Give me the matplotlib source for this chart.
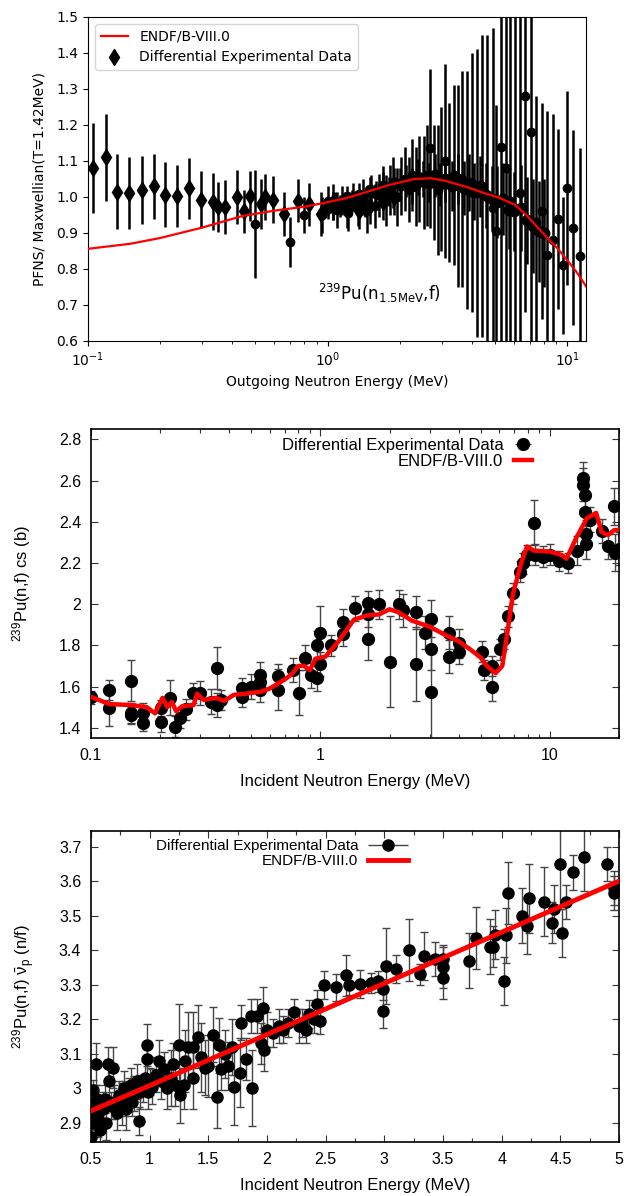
import matplotlib
matplotlib.use("Agg")
import matplotlib.pyplot as plt
from matplotlib.container import ErrorbarContainer
from matplotlib.legend_handler import HandlerErrorbar
from matplotlib.ticker import FuncFormatter, FormatStrFormatter, MultipleLocator, FixedLocator, NullFormatter, LogLocator

OUT = "out.png"

# ---- top: PFNS / Maxwellian ratio ----
PFNS_ENDF_E = [0.1, 0.15, 0.2, 0.3, 0.44, 0.6, 0.8, 0.96, 1.2, 1.41, 1.8, 2.3, 2.7, 3.1, 3.8, 4.5, 5.2, 6.07, 6.8, 7.5, 8.3, 9.1, 10.0, 11.0, 12.0]
PFNS_ENDF_R = [0.856, 0.87, 0.886, 0.915, 0.947, 0.962, 0.973, 0.983, 0.997, 1.011, 1.033, 1.05, 1.052, 1.045, 1.028, 1.011, 0.998, 0.978, 0.948, 0.917, 0.885, 0.858, 0.825, 0.79, 0.752]

PFNS_A_E = [0.105, 0.119, 0.132, 0.149, 0.168, 0.188, 0.209, 0.235, 0.263, 0.296, 0.332, 0.35, 0.372, 0.42, 0.447, 0.473, 0.526, 0.547, 0.59, 0.66, 0.75, 0.84, 0.94, 1.05, 1.2, 1.35, 1.5, 1.7, 1.9]
PFNS_A_R = [1.08, 1.11, 1.015, 1.01, 1.02, 1.03, 1.006, 1.003, 1.024, 0.993, 0.987, 0.973, 0.973, 1.0, 0.96, 1.003, 0.98, 1.0, 0.993, 0.953, 0.99, 0.98, 0.953, 0.985, 0.965, 0.96, 0.975, 0.985, 1.0]
PFNS_A_ERR = [0.125, 0.12, 0.105, 0.1, 0.095, 0.09, 0.09, 0.085, 0.085, 0.08, 0.08, 0.07, 0.075, 0.075, 0.06, 0.07, 0.07, 0.065, 0.065, 0.06, 0.06, 0.06, 0.06, 0.05, 0.05, 0.05, 0.05, 0.05, 0.05]

PFNS_B_E = [0.5, 0.7, 0.8, 0.95, 1.0, 1.05, 1.1, 1.15, 1.22, 1.28, 1.34, 1.4, 1.46, 1.52, 1.58, 1.64, 1.7, 1.76, 1.82, 1.88,
            1.95, 2.02, 2.1, 2.18, 2.26, 2.34, 2.42, 2.52, 2.6, 2.68, 2.78, 2.88, 2.98, 3.1, 3.22, 3.36, 3.5, 3.65, 3.82, 4.0,
            4.2, 4.42, 4.65, 4.9, 5.05, 5.3, 5.55, 5.8, 6.05, 6.35, 6.7, 7.1, 7.45, 7.85, 8.25, 8.7, 9.2, 9.65, 10.0, 10.6, 11.3]
PFNS_B_R = [0.925, 0.875, 0.95, 0.95, 0.99, 0.975, 0.965, 0.99, 0.955, 1.0, 0.97, 1.0, 0.96, 1.01, 0.975, 1.005, 1.025, 0.99, 1.02, 1.04,
            1.0, 1.03, 1.05, 1.02, 1.06, 1.03, 1.05, 1.04, 1.06, 1.135, 1.04, 1.02, 1.05, 1.1, 1.04, 1.06, 1.03, 1.05, 1.02, 1.04,
            1.01, 1.03, 1.0, 0.97, 0.905, 1.14, 1.08, 0.99, 0.97, 1.01, 1.28, 1.18, 0.93, 0.96, 0.84, 0.88, 0.94, 0.81, 1.025, 0.915, 0.835]
PFNS_B_ERR = [0.15, 0.07, 0.05, 0.05, 0.04, 0.04, 0.05, 0.04, 0.05, 0.04, 0.05, 0.05, 0.06, 0.05, 0.06, 0.06, 0.06, 0.07, 0.07, 0.07,
              0.08, 0.08, 0.09, 0.09, 0.1, 0.11, 0.12, 0.13, 0.14, 0.22, 0.16, 0.18, 0.2, 0.27, 0.22, 0.25, 0.28, 0.3, 0.33, 0.36,
              0.4, 0.42, 0.45, 0.5, 0.35, 0.55, 0.55, 0.55, 0.55, 0.55, 0.6, 0.6, 0.35, 0.3, 0.4, 0.35, 0.25, 0.19, 0.27, 0.27, 0.3]

# dense set with small uncertainties around the peak
PFNS_C_E = [1.0, 1.07, 1.13, 1.2, 1.27, 1.35, 1.43, 1.5, 1.6, 1.7, 1.8, 1.9, 2.0, 2.12, 2.25, 2.38, 2.5, 2.65, 2.8, 2.95,
            3.1, 3.3, 3.5, 3.7, 3.9, 4.1, 4.35, 4.6, 4.85, 5.1, 5.4, 5.7, 6.0, 6.4, 6.8, 7.2, 7.6, 8.0]
PFNS_C_R = [0.97, 0.985, 0.975, 1.0, 0.99, 1.005, 0.98, 1.02, 1.01, 1.03, 1.015, 1.04, 1.035, 1.045, 1.03, 1.055, 1.05, 1.04, 1.06, 1.035,
            1.05, 1.03, 1.05, 1.025, 1.04, 1.015, 1.03, 1.005, 0.995, 0.985, 0.995, 0.965, 0.96, 0.97, 0.935, 0.92, 0.905, 0.90]
PFNS_C_ERR = [0.03, 0.03, 0.03, 0.03, 0.03, 0.035, 0.035, 0.035, 0.035, 0.04, 0.04, 0.04, 0.045, 0.045, 0.05, 0.05, 0.05, 0.055, 0.06, 0.06,
              0.065, 0.07, 0.07, 0.075, 0.08, 0.08, 0.085, 0.09, 0.09, 0.1, 0.1, 0.11, 0.11, 0.12, 0.12, 0.13, 0.14, 0.15]

# ---- middle: 239Pu(n,f) cross section ----
CS_ENDF_E = [0.1, 0.12, 0.15, 0.175, 0.19, 0.205, 0.215, 0.225, 0.235, 0.25, 0.28, 0.29, 0.31, 0.35, 0.38, 0.42, 0.47, 0.55,
             0.6, 0.7, 0.75, 0.8, 0.85, 0.9, 0.95, 1.05, 1.2, 1.4, 1.6, 1.8, 2.0, 2.2, 2.5, 3.0, 3.5, 4.0, 4.5, 5.0, 5.3, 5.8,
             6.2, 6.5, 6.9, 7.5, 7.95, 8.5, 10.0, 11.3, 11.8, 13.0, 14.5, 15.9, 16.8, 17.9, 19.1, 20.0]
CS_ENDF_V = [1.55, 1.515, 1.51, 1.5, 1.47, 1.545, 1.5, 1.525, 1.48, 1.505, 1.51, 1.565, 1.535, 1.545, 1.53, 1.56, 1.565, 1.575,
             1.59, 1.635, 1.66, 1.70, 1.70, 1.68, 1.735, 1.745, 1.82, 1.925, 1.945, 1.95, 1.975, 1.96, 1.92, 1.89, 1.85, 1.82, 1.78, 1.74, 1.70, 1.665,
             1.70, 1.85, 2.05, 2.2, 2.28, 2.26, 2.255, 2.238, 2.22, 2.32, 2.417, 2.443, 2.35, 2.335, 2.36, 2.36]

CS_EXP_E = [0.1, 0.12, 0.12, 0.149, 0.149, 0.149, 0.169, 0.169, 0.201, 0.201, 0.222, 0.232, 0.245, 0.26, 0.279, 0.30, 0.335, 0.353,
            0.353, 0.37, 0.455, 0.455, 0.50, 0.546, 0.546, 0.546, 0.656, 0.656, 0.757, 0.804, 0.855, 0.909, 0.966, 0.966, 1.0, 1.0,
            1.11, 1.26, 1.26, 1.42, 1.61, 1.61, 1.61, 1.8, 2.01, 2.2, 2.3, 2.62, 2.62, 2.85, 3.03, 3.03, 3.03, 3.63, 3.63, 4.02, 4.02,
            5.04, 5.15, 5.58, 5.6, 6.05, 6.3, 6.56, 6.92, 7.4, 7.65, 7.91, 8.54, 8.6, 9.35, 10.0, 10.9, 12.0, 13.1, 13.97, 14.0, 14.2,
            14.2, 14.3, 14.4, 14.9, 16.8, 17.9, 19.1, 19.2, 20.0]
CS_EXP_V = [1.547, 1.584, 1.497, 1.628, 1.472, 1.46, 1.472, 1.424, 1.497, 1.43, 1.545, 1.406, 1.447, 1.49, 1.568, 1.568, 1.527, 1.69,
            1.51, 1.535, 1.593, 1.55, 1.60, 1.657, 1.585, 1.62, 1.65, 1.585, 1.68, 1.57, 1.74, 1.655, 1.80, 1.64, 1.86, 1.71,
            1.80, 1.915, 1.855, 1.98, 2.005, 1.83, 1.95, 2.0, 1.72, 2.0, 1.97, 1.71, 1.96, 1.86, 1.93, 1.78, 1.575, 1.86, 1.745, 1.81, 1.77,
            1.77, 1.68, 1.60, 1.70, 1.78, 1.83, 1.94, 2.052, 2.157, 2.198, 2.238, 2.396, 2.24, 2.23, 2.24, 2.21, 2.20, 2.26, 2.61, 2.58, 2.53,
            2.448, 2.34, 2.29, 2.41, 2.355, 2.28, 2.475, 2.25, 2.27]
CS_EXP_ERR = [0.03, 0.05, 0.09, 0.1, 0.05, 0.04, 0.05, 0.04, 0.04, 0.05, 0.085, 0.05, 0.05, 0.05, 0.05, 0.06, 0.06, 0.1,
              0.06, 0.05, 0.05, 0.05, 0.06, 0.06, 0.06, 0.06, 0.06, 0.1, 0.06, 0.11, 0.06, 0.06, 0.07, 0.06, 0.13, 0.06,
              0.05, 0.06, 0.06, 0.06, 0.06, 0.1, 0.06, 0.07, 0.22, 0.07, 0.08, 0.18, 0.08, 0.08, 0.09, 0.1, 0.3, 0.08, 0.08, 0.07, 0.06,
              0.05, 0.05, 0.07, 0.05, 0.05, 0.05, 0.05, 0.05, 0.05, 0.05, 0.05, 0.11, 0.05, 0.05, 0.05, 0.05, 0.05, 0.07, 0.08, 0.08, 0.07,
              0.07, 0.07, 0.07, 0.06, 0.06, 0.06, 0.09, 0.09, 0.08]

# ---- bottom: prompt nubar ----
NU_ENDF_E = [0.5, 1.0, 1.5, 2.0, 2.5, 3.0, 3.5, 4.0, 4.5, 5.0]
NU_ENDF_V = [2.935, 3.008, 3.082, 3.156, 3.23, 3.304, 3.378, 3.452, 3.526, 3.60]

NU_EXP_E = [0.5, 0.5, 0.51, 0.52, 0.53, 0.54, 0.55, 0.56, 0.57, 0.58, 0.6, 0.62, 0.63, 0.645, 0.65, 0.67, 0.69, 0.7, 0.72, 0.74,
            0.76, 0.78, 0.79, 0.8, 0.82, 0.84, 0.85, 0.87, 0.89, 0.91, 0.92, 0.94, 0.96, 0.975, 0.975, 0.99, 1.0, 1.02, 1.05, 1.08,
            1.1, 1.12, 1.15, 1.18, 1.2, 1.22, 1.25, 1.26, 1.29, 1.3, 1.33, 1.37, 1.37, 1.41, 1.44, 1.47, 1.495, 1.54, 1.57, 1.595,
            1.605, 1.64, 1.667, 1.7, 1.72, 1.77, 1.78, 1.82, 1.86, 1.87, 1.915, 1.95, 1.967, 1.975, 2.0, 2.05, 2.1, 2.14, 2.18, 2.227,
            2.27, 2.295, 2.33, 2.36, 2.4, 2.43, 2.45, 2.486, 2.59, 2.674, 2.7, 2.79, 2.89, 2.95, 2.99, 2.99, 3.015, 3.1, 3.21, 3.3,
            3.34, 3.43, 3.5, 3.5, 3.5, 3.72, 3.78, 3.9, 3.93, 3.94, 4.02, 4.04, 4.05, 4.17, 4.22, 4.23, 4.36, 4.43, 4.45, 4.5,
            4.51, 4.55, 4.61, 4.7, 4.9, 4.955, 4.955]
NU_EXP_V = [2.86, 2.945, 2.90, 2.995, 2.93, 3.07, 2.97, 2.91, 2.95, 2.88, 2.94, 2.97, 2.90, 3.07, 3.02, 2.95, 3.06, 2.96, 2.93, 2.98,
            2.955, 3.0, 2.97, 2.94, 2.99, 3.01, 2.96, 2.985, 3.02, 2.905, 2.99, 3.0, 3.03, 3.125, 3.085, 2.99, 3.02, 3.005, 3.04, 3.08,
            3.02, 3.055, 3.0, 3.03, 3.07, 3.01, 3.125, 2.98, 3.01, 3.08, 3.12, 3.03, 3.12, 3.15, 3.09, 3.06, 3.065, 3.155, 2.975, 3.125,
            3.055, 3.10, 3.065, 3.12, 3.005, 3.045, 3.19, 3.085, 3.21, 3.0, 3.21, 3.13, 3.234, 3.11, 3.17, 3.16, 3.18, 3.17, 3.19, 3.22,
            3.18, 3.19, 3.17, 3.215, 3.20, 3.245, 3.196, 3.30, 3.292, 3.327, 3.30, 3.302, 3.305, 3.31, 3.287, 3.225, 3.353, 3.345, 3.40, 3.33,
            3.384, 3.375, 3.375, 3.35, 3.32, 3.37, 3.435, 3.41, 3.41, 3.445, 3.31, 3.443, 3.566, 3.50, 3.47, 3.55, 3.54, 3.48, 3.52, 3.648,
            3.45, 3.54, 3.625, 3.67, 3.65, 3.58, 3.565]
NU_EXP_ERR = [0.02, 0.03, 0.03, 0.03, 0.04, 0.06, 0.04, 0.05, 0.03, 0.04, 0.05, 0.04, 0.05, 0.05, 0.05, 0.04, 0.06, 0.05, 0.05, 0.04,
              0.06, 0.05, 0.05, 0.06, 0.04, 0.05, 0.04, 0.05, 0.05, 0.04, 0.05, 0.04, 0.05, 0.06, 0.05, 0.05, 0.04, 0.05, 0.05, 0.06,
              0.05, 0.05, 0.06, 0.08, 0.06, 0.06, 0.12, 0.08, 0.07, 0.09, 0.1, 0.09, 0.1, 0.09, 0.1, 0.08, 0.09, 0.08, 0.09, 0.08,
              0.06, 0.07, 0.07, 0.08, 0.11, 0.1, 0.05, 0.06, 0.05, 0.11, 0.05, 0.06, 0.06, 0.06, 0.05, 0.04, 0.05, 0.04, 0.04, 0.04,
              0.05, 0.04, 0.04, 0.04, 0.04, 0.04, 0.04, 0.04, 0.04, 0.06, 0.03, 0.04, 0.03, 0.03, 0.03, 0.05, 0.11, 0.04, 0.09, 0.03,
              0.07, 0.05, 0.04, 0.06, 0.06, 0.08, 0.09, 0.08, 0.06, 0.07, 0.07, 0.08, 0.09, 0.08, 0.08, 0.1, 0.1, 0.06, 0.07, 0.13,
              0.07, 0.05, 0.05, 0.1, 0.05, 0.05, 0.05]

GNU_FONT = "Liberation Sans"


def gnuplot_style(ax):
    for s in ax.spines.values():
        s.set_linewidth(1.2)
    ax.tick_params(which="both", direction="in", top=True, right=True, width=0.8,
                   color="#333333", labelsize=11.5, labelfontfamily=GNU_FONT)
    ax.tick_params(which="major", length=5, pad=7)
    ax.tick_params(which="minor", length=3)
    ax.xaxis.set_major_formatter(FuncFormatter(lambda v, p: "%g" % v))
    ax.yaxis.set_major_formatter(FuncFormatter(lambda v, p: "%g" % v))


def gnuplot_legend(ax, exp_h, endf_h, anchor_x, size, hlen, xerr_size):
    ax.legend([exp_h, endf_h], ["Differential Experimental Data", "ENDF/B-VIII.0"],
              loc="upper right", bbox_to_anchor=(anchor_x, 1.0), frameon=False,
              markerfirst=False, prop={"family": GNU_FONT, "size": size},
              labelspacing=0.05, borderaxespad=0.15, handletextpad=0.65, handlelength=hlen,
              handler_map={ErrorbarContainer: HandlerErrorbar(xerr_size=xerr_size)})


def main():
    fig = plt.figure(figsize=(6.35, 11.96), dpi=100)

    # top panel (matplotlib look)
    ax1 = fig.add_axes([0.1386, 0.7149, 0.7843, 0.2709])
    ax1.errorbar(PFNS_B_E, PFNS_B_R, yerr=PFNS_B_ERR, fmt="o", color="black", ms=6,
                 elinewidth=1.8, zorder=2)
    ax1.errorbar(PFNS_C_E, PFNS_C_R, yerr=PFNS_C_ERR, fmt="o", color="black", ms=7.5,
                 elinewidth=1.8, zorder=2)
    h_a = ax1.errorbar(PFNS_A_E, PFNS_A_R, yerr=PFNS_A_ERR, fmt="d", color="black", ms=8.5,
                       elinewidth=1.8, zorder=2)
    h_l, = ax1.plot(PFNS_ENDF_E, PFNS_ENDF_R, color="red", lw=1.6, zorder=3)
    ax1.set_xscale("log")
    ax1.set_xlim(0.1, 12)
    ax1.set_ylim(0.6, 1.5)
    ax1.yaxis.set_major_locator(MultipleLocator(0.1))
    ax1.yaxis.set_major_formatter(FormatStrFormatter("%.1f"))
    ax1.tick_params(labelsize=10)
    ax1.set_xlabel("Outgoing Neutron Energy (MeV)", fontsize=10)
    ax1.set_ylabel("PFNS/ Maxwellian(T=1.42MeV)", fontsize=10)
    ax1.yaxis.set_label_coords(-0.084, 0.5)
    ax1.text(0.91, 0.715, r"$^{239}$Pu(n$_{\mathrm{1.5MeV}}$,f)", fontsize=12)
    ax1.legend([h_l, h_a], ["ENDF/B-VIII.0", "Differential Experimental Data"],
               loc="upper left", fontsize=10)

    # middle panel (gnuplot look)
    ax2 = fig.add_axes([0.1433, 0.3829, 0.8315, 0.2584])
    ax2.errorbar(CS_EXP_E, CS_EXP_V, yerr=CS_EXP_ERR, fmt="o", color="black", ms=8.5,
                 ecolor="#444444", elinewidth=1.0, capsize=3, capthick=1.0, zorder=2)
    ax2.plot(CS_ENDF_E, CS_ENDF_V, color="#ff0000", lw=3.2, zorder=3)
    h_e2 = ax2.errorbar([], [], xerr=[], fmt="o", color="black", ms=8.5, ecolor="#444444",
                        elinewidth=1.0, capsize=3)
    h_r2, = ax2.plot([], [], color="#ff0000", lw=3.2)
    ax2.set_xscale("log")
    ax2.set_xlim(0.1, 20)
    ax2.set_ylim(1.35, 2.85)
    ax2.yaxis.set_major_locator(MultipleLocator(0.2))
    ax2.xaxis.set_major_locator(FixedLocator([0.1, 1, 10]))
    ax2.xaxis.set_minor_locator(LogLocator(subs=range(2, 10)))
    ax2.xaxis.set_minor_formatter(NullFormatter())
    gnuplot_style(ax2)
    ax2.set_xlabel("Incident Neutron Energy (MeV)", fontsize=12, family=GNU_FONT)
    ax2.set_ylabel("$^{239}$Pu(n,f) cs (b)", fontsize=12, family=GNU_FONT, math_fontfamily="custom")
    ax2.xaxis.set_label_coords(0.5, -0.115)
    ax2.yaxis.set_label_coords(-0.11, 0.5)
    gnuplot_legend(ax2, h_e2, h_r2, 0.852, 12, 1.05, 0.5)

    # bottom panel (gnuplot look)
    ax3 = fig.add_axes([0.1433, 0.0452, 0.8315, 0.2600])
    ax3.errorbar(NU_EXP_E, NU_EXP_V, yerr=NU_EXP_ERR, fmt="o", color="black", ms=8,
                 ecolor="#444444", elinewidth=1.0, capsize=3, capthick=1.0, zorder=2)
    ax3.plot(NU_ENDF_E, NU_ENDF_V, color="#ff0000", lw=3.5, zorder=3)
    h_e3 = ax3.errorbar([], [], xerr=[], fmt="o", color="black", ms=8, ecolor="#444444",
                        elinewidth=1.0, capsize=3)
    h_r3, = ax3.plot([], [], color="#ff0000", lw=3.5)
    ax3.set_xlim(0.5, 5)
    ax3.set_ylim(2.845, 3.745)
    ax3.xaxis.set_major_locator(MultipleLocator(0.5))
    ax3.xaxis.set_minor_locator(MultipleLocator(0.25))
    ax3.yaxis.set_major_locator(MultipleLocator(0.1))
    gnuplot_style(ax3)
    ax3.set_xlabel("Incident Neutron Energy (MeV)", fontsize=12, family=GNU_FONT)
    ax3.set_ylabel(r"$^{239}$Pu(n,f) $\bar{\mathrm{\nu}}_\mathrm{p}$ (n/f)", fontsize=12,
                   family=GNU_FONT, math_fontfamily="custom")
    ax3.xaxis.set_label_coords(0.5, -0.115)
    ax3.yaxis.set_label_coords(-0.102, 0.5)
    gnuplot_legend(ax3, h_e3, h_r3, 0.616, 11, 2.6, 1.3)

    fig.savefig(OUT, dpi=100)
    plt.close(fig)


if __name__ == "__main__":
    plt.rcParams["mathtext.fontset"] = "dejavusans"
    plt.rcParams["mathtext.rm"] = GNU_FONT
    plt.rcParams["mathtext.it"] = GNU_FONT + ":italic"
    plt.rcParams["mathtext.bf"] = GNU_FONT + ":bold"
    main()
